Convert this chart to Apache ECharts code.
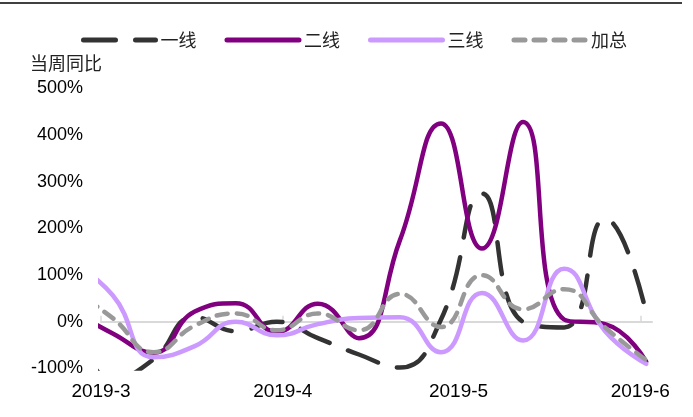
<!DOCTYPE html>
<html>
<head>
<meta charset="utf-8">
<script src="https://cdn.jsdelivr.net/npm/echarts@6/dist/echarts.min.js"></script>
<style>
  html, body { margin: 0; padding: 0; background: #fff; }
  #chart { width: 693px; height: 417px; }
</style>
</head>
<body>
<div id="chart"></div>
<script>
// Weekly observation dates (Sundays)
const weeks = ['2019-02-24','2019-03-03','2019-03-10','2019-03-17','2019-03-24','2019-03-31',
               '2019-04-07','2019-04-14','2019-04-21','2019-04-28','2019-05-05','2019-05-12',
               '2019-05-19','2019-05-26','2019-06-02'];

// Year-on-year change of the week, in percent
const tier1 = [40, -125, -80, 10, -20, 0, -35, -70, -98, 5, 275, 0, -12, 221, 20];
const tier2 = [25, -25, -66, 22, 40, -22, 39, -35, 175, 425, 157, 428, 5, -5, -85];
const tier3 = [130, 57, -76, -52, 0, -29, -5, 8, 10, -65, 62, -40, 114, -20, -90];
const total = [70, 8, -65, -8, 18, -18, 18, -18, 60, -11, 100, 27, 70, -12, -82];

const seriesNames = ['一线', '二线', '三线', '加总'];

// Month ticks on the date axis
const tickDates = ['2019-03-01', '2019-04-01', '2019-05-01', '2019-06-01'];
const tickLabels = ['2019-3', '2019-4', '2019-5', '2019-6'];
const axisStart = '2019-03-01';
const axisEnd = '2019-06-03';

const yTicks = { min: -100, max: 500, interval: 100 };

// dates are placed on a linear axis measured in days
function toDay(s) {
  const [y, m, d] = s.split('-').map(Number);
  return Math.round(Date.UTC(y, m - 1, d) / 86400000);
}
const tickDays = tickDates.map(toDay);
const pairs = vals => weeks.map((w, i) => [toDay(w), vals[i]]);

const chart = echarts.init(document.getElementById('chart'), null, { renderer: 'canvas' });

const latin = '"Liberation Sans", Arial, sans-serif';
const cjk = '"Noto Sans CJK SC", sans-serif';

function lineSeries(name, vals, color, dash) {
  return {
    name: name,
    type: 'line',
    xAxisIndex: 0,
    data: pairs(vals),
    smooth: 0.5,
    symbol: 'none',
    clip: true,
    lineStyle: { color: color, width: 4.5, type: dash || 'solid', cap: 'round', join: 'round' },
    itemStyle: { color: color }
  };
}

const xRange = { type: 'value', min: toDay(axisStart), max: toDay(axisEnd), splitLine: { show: false } };

chart.setOption({
  animation: false,
  backgroundColor: '#fff',
  grid: { left: 101, right: 41, top: 88.5, bottom: 48.5, outerBoundsMode: 'none', containLabel: false },
  legend: {
    data: seriesNames,
    left: 76,
    top: 26,
    itemWidth: 72,
    itemHeight: 14,
    itemGap: 28,
    itemStyle: { opacity: 0 },
    lineStyle: { width: 5, cap: 'round' },
    textStyle: { fontFamily: cjk, fontSize: 18, color: '#222' }
  },
  graphic: [
    { type: 'line', shape: { x1: 0, y1: 3, x2: 682, y2: 3 }, style: { stroke: '#000', lineWidth: 1.5 } },
    { type: 'text', left: 30, top: 54, style: { text: '当周同比', font: '18px "Noto Sans CJK SC"', fill: '#222' } }
  ],
  xAxis: [
    // zero line with inward month ticks
    Object.assign({}, xRange, {
      axisLine: { onZero: true, lineStyle: { color: '#d9d9d9', width: 2 } },
      axisTick: { inside: true, length: 6, customValues: tickDays, lineStyle: { color: '#d9d9d9', width: 1.5 } },
      axisLabel: { show: false }
    }),
    // month labels along the bottom edge
    Object.assign({}, xRange, {
      position: 'bottom',
      axisLine: { show: false, onZero: false },
      axisTick: { show: false },
      axisLabel: {
        customValues: tickDays,
        margin: 14,
        fontFamily: latin,
        fontSize: 19,
        color: '#000',
        formatter: v => {
          const i = tickDays.indexOf(v);
          return i >= 0 ? tickLabels[i] : '';
        }
      }
    })
  ],
  yAxis: {
    type: 'value',
    min: yTicks.min,
    max: yTicks.max,
    interval: yTicks.interval,
    axisLine: { show: false },
    axisTick: { show: false },
    splitLine: { show: false },
    axisLabel: { margin: 18, fontFamily: latin, fontSize: 18, color: '#000', formatter: v => v + '%' }
  },
  series: [
    lineSeries(seriesNames[0], tier1, '#333333', [32, 20]),
    lineSeries(seriesNames[1], tier2, '#800080'),
    lineSeries(seriesNames[2], tier3, '#CC99FF'),
    lineSeries(seriesNames[3], total, '#999999', [11, 9])
  ]
});
</script>
</body>
</html>
